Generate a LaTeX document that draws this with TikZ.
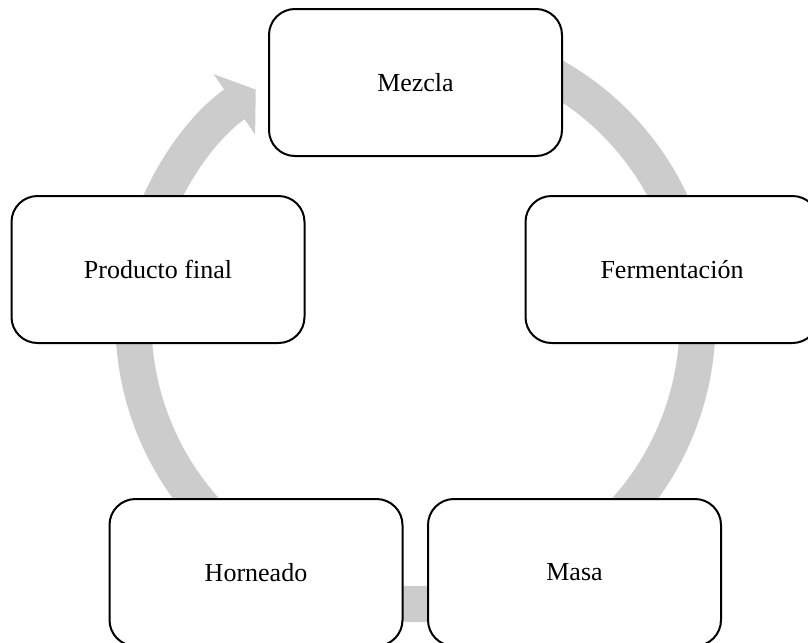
\documentclass[tikz,border=0pt]{standalone}
\usepackage{fontspec}
\setmainfont{Liberation Serif}
\usetikzlibrary{arrows.meta}
\tikzset{
  stage/.style = {rectangle, rounded corners=19.5pt, minimum width=219.75pt, minimum height=110.25pt, inner sep=0pt, text centered, draw=black, line width=1.5pt, fill=white, font=\fontsize{19.5}{23}\selectfont},
  ring/.style = {draw=black!20, line width=27pt, -{Triangle[width=54pt, length=19.5pt]}}
}

\begin{document}
\begin{tikzpicture}[x=0.75pt, y=0.75pt]
\useasboundingbox (0,0) rectangle (808,-643);
\coordinate (hub) at (415.5,-322);

% cycle arrow, behind the boxes
\draw [ring] ([shift={(75:211.5pt)}]hub) arc [start angle=75, end angle=-235.5, radius=211.5pt];

\node (mezcla) [stage] at (415.5,-82.5) {Mezcla};
\node (ferm) [stage] at (672,-269.5) {Fermentación};
\node (masa) [stage] at (574.5,-572.5) {Masa};
\node (horn) [stage] at (256,-572.5) {Horneado};
\node (prod) [stage] at (158,-269.5) {Producto final};
\end{tikzpicture}
\end{document}
